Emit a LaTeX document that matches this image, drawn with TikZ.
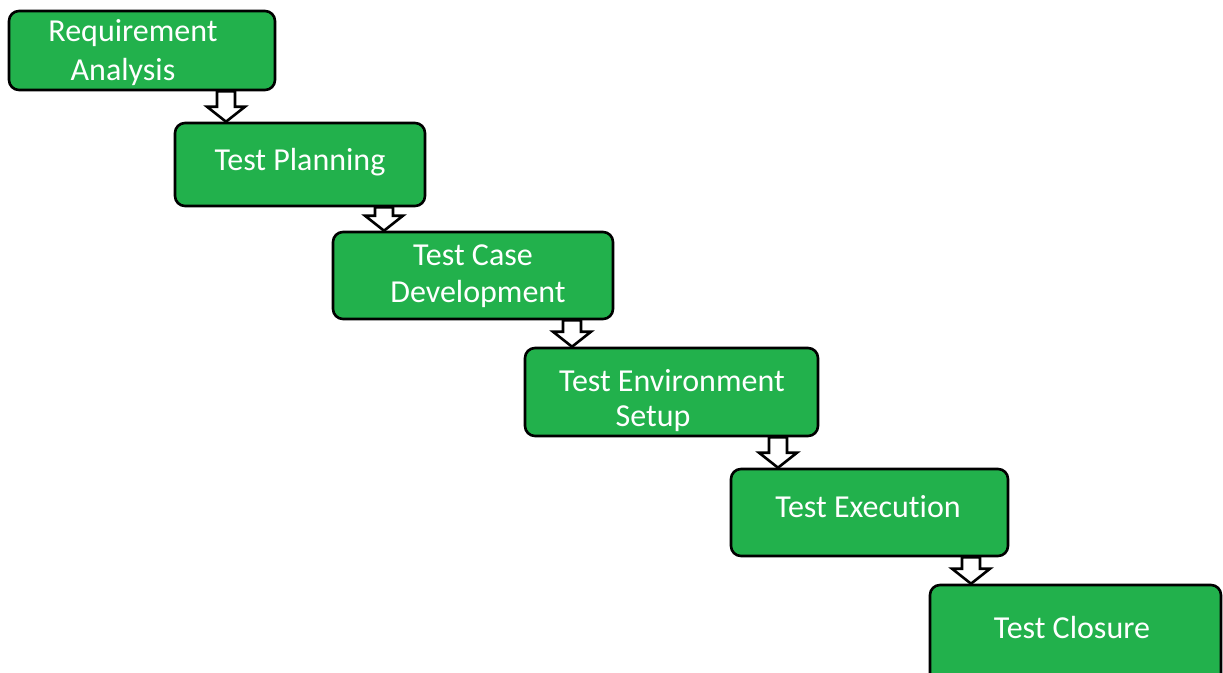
\documentclass[tikz,border=0pt]{standalone}
\usepackage{fontspec}
\setmainfont{Carlito}[RawFeature={-liga;-clig;-calt}]
\usetikzlibrary{calc}
\definecolor{boxgreen}{HTML}{22B14C}
\tikzset{
  stagebox/.style={draw=black, line width=2.6pt, fill=boxgreen, rounded corners=10pt, inner sep=0pt},
  stagetext/.style={text=white, align=center, font=\fontsize{32}{39}\selectfont, inner sep=0pt},
  blockarrow/.style={draw=black, line width=2.6pt, fill=white, line join=miter}
}
\newcommand{\myblockarrow}[3]{%
  \draw[blockarrow] let \p1=(#1.south), \p2=(#2.north) in
    (#3-9pt,\y1) -- (#3-9pt,\y2+15pt) -- (#3-19pt,\y2+15pt) -- (#3,\y2) --
    (#3+19pt,\y2+15pt) -- (#3+9pt,\y2+15pt) -- (#3+9pt,\y1) -- cycle;
}
\begin{document}
\begin{tikzpicture}[x=1pt,y=-1pt]
\useasboundingbox (0,0) rectangle (1223,672);
\clip (0,0) rectangle (1223,672);
\node[stagebox, minimum width=266pt, minimum height=79pt] (b1) at (142,50.5) {};
\node[stagebox, minimum width=250pt, minimum height=83pt] (b2) at (300,164.5) {};
\node[stagebox, minimum width=280pt, minimum height=87pt] (b3) at (473,275.5) {};
\node[stagebox, minimum width=293pt, minimum height=88pt] (b4) at (671.5,392) {};
\node[stagebox, minimum width=277pt, minimum height=87pt] (b5) at (869.5,512.5) {};
\node[stagebox, minimum width=291pt, minimum height=105pt] (b6) at (1075.5,637.5) {};

\node[stagetext] (t1a) at (133,33) {Requirement};
\node[stagetext] (t1b) at (123,72) {Analysis};
\node[stagetext] (t2) at (300,162) {Test Planning};
\node[stagetext] (t3a) at (473,255) {Test Case};
\node[stagetext] (t3b) at (478,294) {Development};
\node[stagetext] (t4a) at (672,381) {Test Environment};
\node[stagetext] (t4b) at (653,419) {Setup};
\node[stagetext] (t5) at (868,507) {Test Execut\kern0pt ion};
\node[stagetext] (t6) at (1072,627) {Test Closure};

\myblockarrow{b1}{b2}{226pt}
\myblockarrow{b2}{b3}{384pt}
\myblockarrow{b3}{b4}{572pt}
\myblockarrow{b4}{b5}{778pt}
\myblockarrow{b5}{b6}{971pt}
\end{tikzpicture}
\end{document}
